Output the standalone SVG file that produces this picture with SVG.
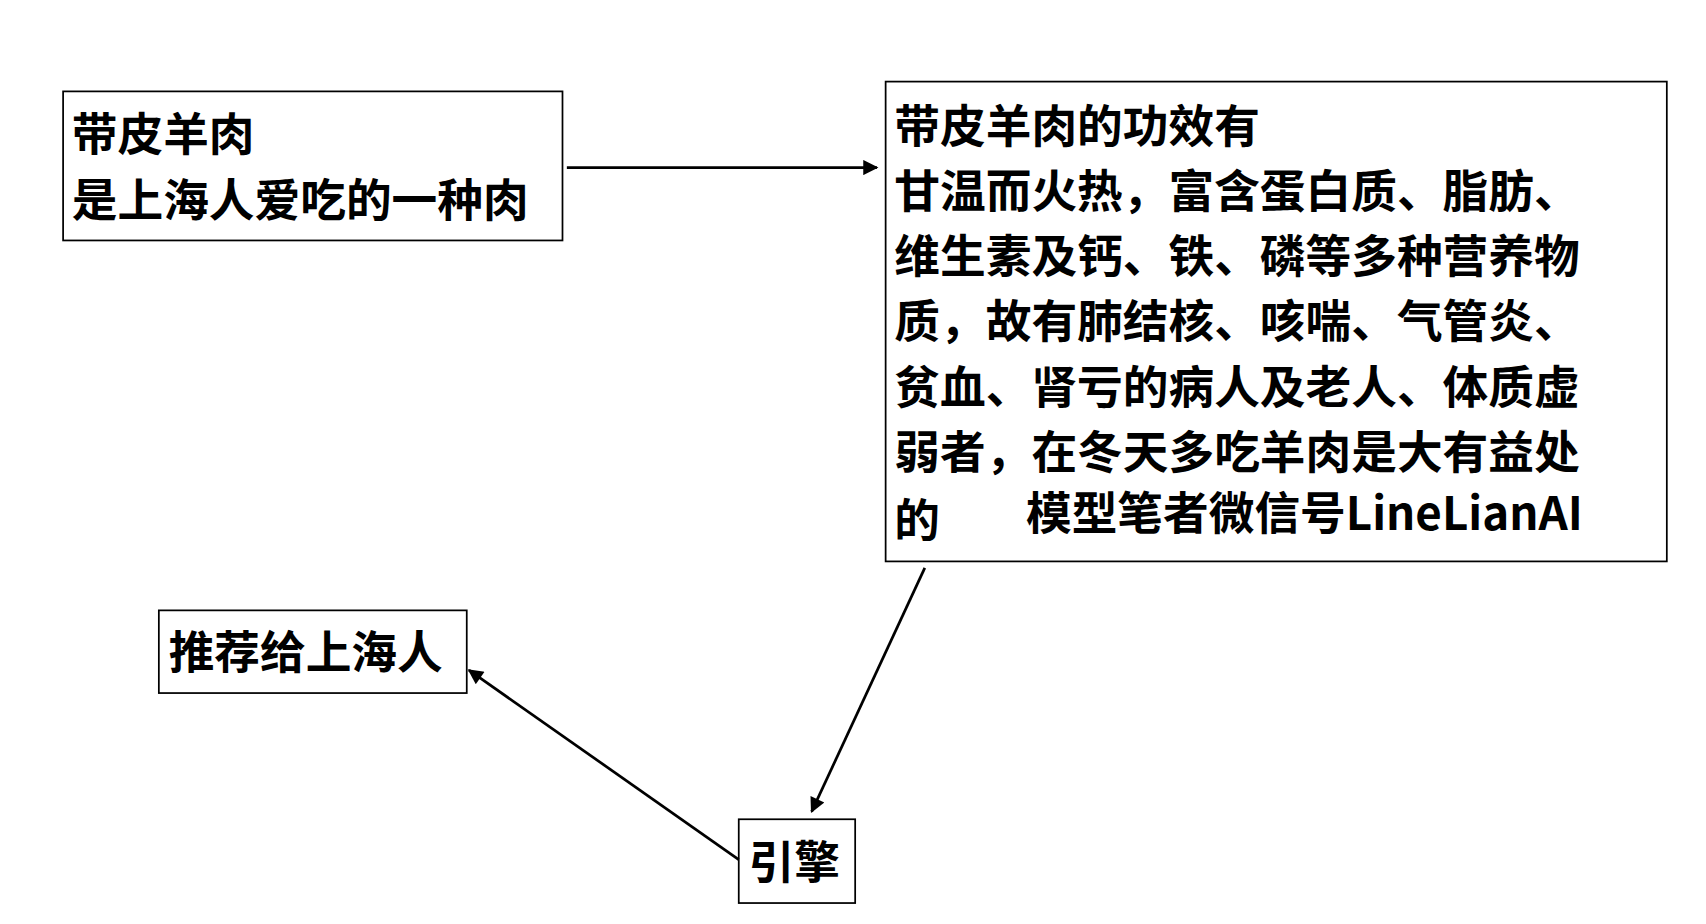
<svg xmlns="http://www.w3.org/2000/svg" width="1706" height="924" viewBox="0 0 1706 924">
<style>
.b{fill:#fff;stroke:#000;stroke-width:1.6}
.t{font-family:"Noto Sans CJK SC","Liberation Sans",sans-serif;font-weight:bold;font-size:42px;fill:#000}
.c{stroke:#000;stroke-width:2.5;fill:none;marker-end:url(#a)}
</style>
<defs><marker id="a" viewBox="0 0 10 10" refX="9" refY="5" markerWidth="16" markerHeight="14" orient="auto" markerUnits="userSpaceOnUse"><path d="M0,0L10,5L0,10z"/></marker></defs>
<rect width="1706" height="924" fill="#fff"/>
<g transform="scale(1.088)">
<g id="n1"><rect class="b" x="58" y="84" width="459" height="137"/>
<text class="t" x="66" y="139">带皮羊肉</text><text class="t" x="66" y="199">是上海人爱吃的一种肉</text></g>
<g id="n2"><rect class="b" x="814" y="75" width="718" height="441"/>
<text class="t" x="822" y="131">带皮羊肉的功效有</text>
<text class="t" x="822" y="191">甘温而火热，富含蛋白质、脂肪、</text>
<text class="t" x="822" y="251">维生素及钙、铁、磷等多种营养物</text>
<text class="t" x="822" y="311">质，故有肺结核、咳喘、气管炎、</text>
<text class="t" x="822" y="371">贫血、肾亏的病人及老人、体质虚</text>
<text class="t" x="822" y="431">弱者，在冬天多吃羊肉是大有益处</text>
<text class="t" x="822" y="494">的</text><text class="t" x="943" y="487">模型笔者微信号LineLianAI</text></g>
<g id="n3"><rect class="b" x="146" y="561" width="283" height="76"/><text class="t" x="155" y="615">推荐给上海人</text></g>
<g id="n4"><rect class="b" x="679" y="753" width="107" height="77"/><text class="t" x="688" y="808">引擎</text></g>
<g id="edges">
<line class="c" x1="521" y1="154" x2="806" y2="154"/>
<line class="c" x1="850" y1="522" x2="746" y2="746"/>
<line class="c" x1="679" y1="790" x2="431" y2="616"/>
</g></g>
</svg>
